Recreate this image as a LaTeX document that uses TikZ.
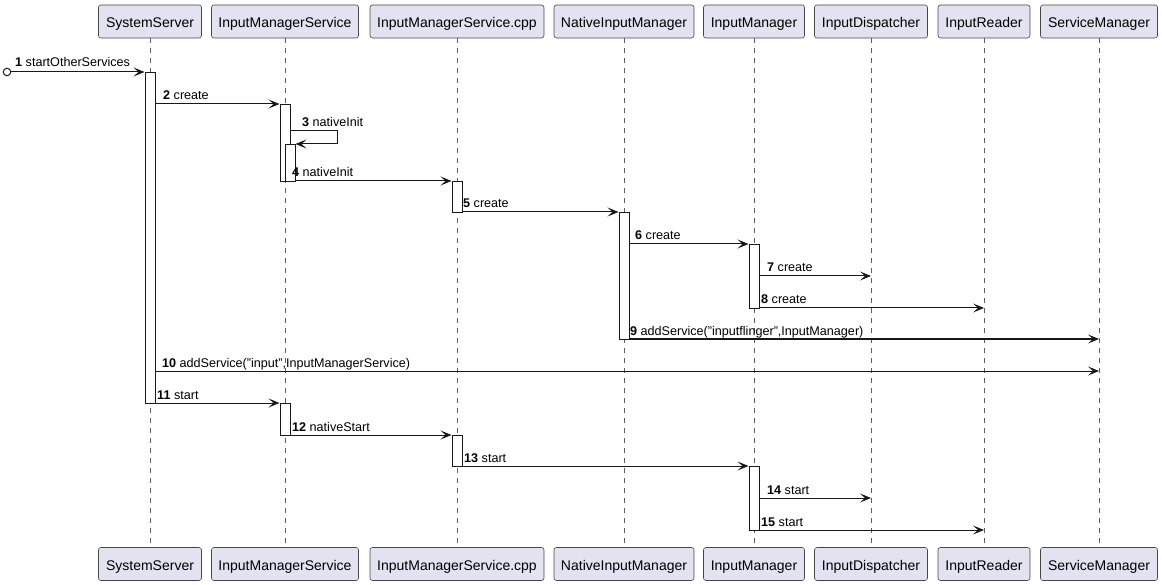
\documentclass[tikz,border=0pt]{standalone}
\usepackage{fontspec}
\setmainfont{Liberation Sans}
\usetikzlibrary{arrows.meta}
\definecolor{pfill}{HTML}{E2E2F0}
\definecolor{pline}{HTML}{181818}
\tikzset{
  part/.style={draw=pline!80, line width=0.6pt, fill=pfill, rounded corners=2.5pt,
    minimum height=33pt, inner sep=0pt, text height=13pt, text depth=0pt,
    font=\fontsize{14}{16}\selectfont},
  life/.style={draw=pline!70, line width=0.6pt, dash pattern=on 5pt off 5pt},
  act/.style={draw=pline, line width=1pt, fill=white, minimum width=10pt, inner sep=0pt, anchor=north},
  msg/.style={draw=pline, line width=1pt, -{Stealth[length=11pt, width=9pt, inset=5pt]}},
  lbl/.style={anchor=base west, inner sep=0pt, font=\fontsize{12.6}{14}\selectfont},
}
\begin{document}
\begin{tikzpicture}[x=1pt, y=-1pt]
\useasboundingbox (0,0) rectangle (1162,585);
% participants top
\node[part, minimum width=103pt] (ss)  at (150,21.5) {SystemServer};
\node[part, minimum width=147pt] (ims) at (285,21.5) {InputManagerService};
\node[part, minimum width=174pt] (cpp) at (457,21.5) {InputManagerService.cpp};
\node[part, minimum width=140pt] (nim) at (624,21.5) {NativeInputManager};
\node[part, minimum width=101pt] (im)  at (754,21.5) {InputManager};
\node[part, minimum width=113pt] (id)  at (871,21.5) {InputDispatcher};
\node[part, minimum width=92pt]  (ir)  at (984,21.5) {InputReader};
\node[part, minimum width=117pt] (sm)  at (1099,21.5) {ServiceManager};
% participants bottom
\node[part, minimum width=103pt] (ssb)  at (150,564) {SystemServer};
\node[part, minimum width=147pt] (imsb) at (285,564) {InputManagerService};
\node[part, minimum width=174pt] (cppb) at (457,564) {InputManagerService.cpp};
\node[part, minimum width=140pt] (nimb) at (624,564) {NativeInputManager};
\node[part, minimum width=101pt] (imb)  at (754,564) {InputManager};
\node[part, minimum width=113pt] (idb)  at (871,564) {InputDispatcher};
\node[part, minimum width=92pt]  (irb)  at (984,564) {InputReader};
\node[part, minimum width=117pt] (smb)  at (1099,564) {ServiceManager};
% lifelines
\foreach \p in {ss,ims,cpp,nim,im,id,ir,sm}
  \draw[life] (\p.south) -- (\p b.north);
% activations
\node[act, minimum height=331pt] (aSS)   at (150,72)  {};
\node[act, minimum height=77pt]  (aIMS1) at (285,104) {};
\node[act, minimum height=37pt]  (aIMS2) at (290,144) {};
\node[act, minimum height=31pt]  (aCPP1) at (457,181) {};
\node[act, minimum height=127pt] (aNIM)  at (624,212) {};
\node[act, minimum height=64pt]  (aIM1)  at (754,244) {};
\node[act, minimum height=32pt]  (aIMS3) at (285,403) {};
\node[act, minimum height=31pt]  (aCPP2) at (457,435) {};
\node[act, minimum height=64pt]  (aIM2)  at (754,466) {};
% messages
\node[draw=pline, line width=1pt, circle, minimum size=7.5pt, inner sep=0pt] (start) at (7,72) {};
\draw[msg] (start.east) -- (aSS.west |- 0,72);
\node[lbl] (l1) at (15,67) {\textbf{1} startOtherServices};
\draw[msg] (aSS.east |- 0,104) -- (aIMS1.west |- 0,104);
\node[lbl] (l2) at (163,100) {\textbf{2} create};
\coordinate (s3a) at (337,131);
\coordinate (s3b) at (337,144);
\draw[msg] (aIMS1.east |- s3a) -- (s3a) -- (s3b) -- (aIMS2.east |- s3b);
\node[lbl] (l3) at (302,127) {\textbf{3} nativeInit};
\draw[msg] (aIMS2.east |- 0,181) -- (aCPP1.west |- 0,181);
\node[lbl] (l4) at (292,177) {\textbf{4} nativeInit};
\draw[msg] (aCPP1.east |- 0,212) -- (aNIM.west |- 0,212);
\node[lbl] (l5) at (463,208) {\textbf{5} create};
\draw[msg] (aNIM.east |- 0,244) -- (aIM1.west |- 0,244);
\node[lbl] (l6) at (635,240) {\textbf{6} create};
\draw[msg] (aIM1.east |- 0,276) -- (id.south |- 0,276);
\node[lbl] (l7) at (767,272) {\textbf{7} create};
\draw[msg] (aIM1.east |- 0,308) -- (ir.south |- 0,308);
\node[lbl] (l8) at (761,304) {\textbf{8} create};
\draw[msg] (aNIM.east |- 0,339) -- (sm.south |- 0,339);
\node[lbl] (l9) at (630,335) {\textbf{9} addService("inputflinger",InputManager)};
\draw[msg] (aSS.east |- 0,371) -- (sm.south |- 0,371);
\node[lbl] (l10) at (162,367) {\textbf{10} addService("input",InputManagerService)};
\draw[msg] (aSS.east |- 0,403) -- (aIMS3.west |- 0,403);
\node[lbl] (l11) at (157,399) {\textbf{11} start};
\draw[msg] (aIMS3.east |- 0,435) -- (aCPP2.west |- 0,435);
\node[lbl] (l12) at (292,431) {\textbf{12} nativeStart};
\draw[msg] (aCPP2.east |- 0,466) -- (aIM2.west |- 0,466);
\node[lbl] (l13) at (464,462) {\textbf{13} start};
\draw[msg] (aIM2.east |- 0,498) -- (id.south |- 0,498);
\node[lbl] (l14) at (767,494) {\textbf{14} start};
\draw[msg] (aIM2.east |- 0,530) -- (ir.south |- 0,530);
\node[lbl] (l15) at (761,526) {\textbf{15} start};
\end{tikzpicture}
\end{document}
